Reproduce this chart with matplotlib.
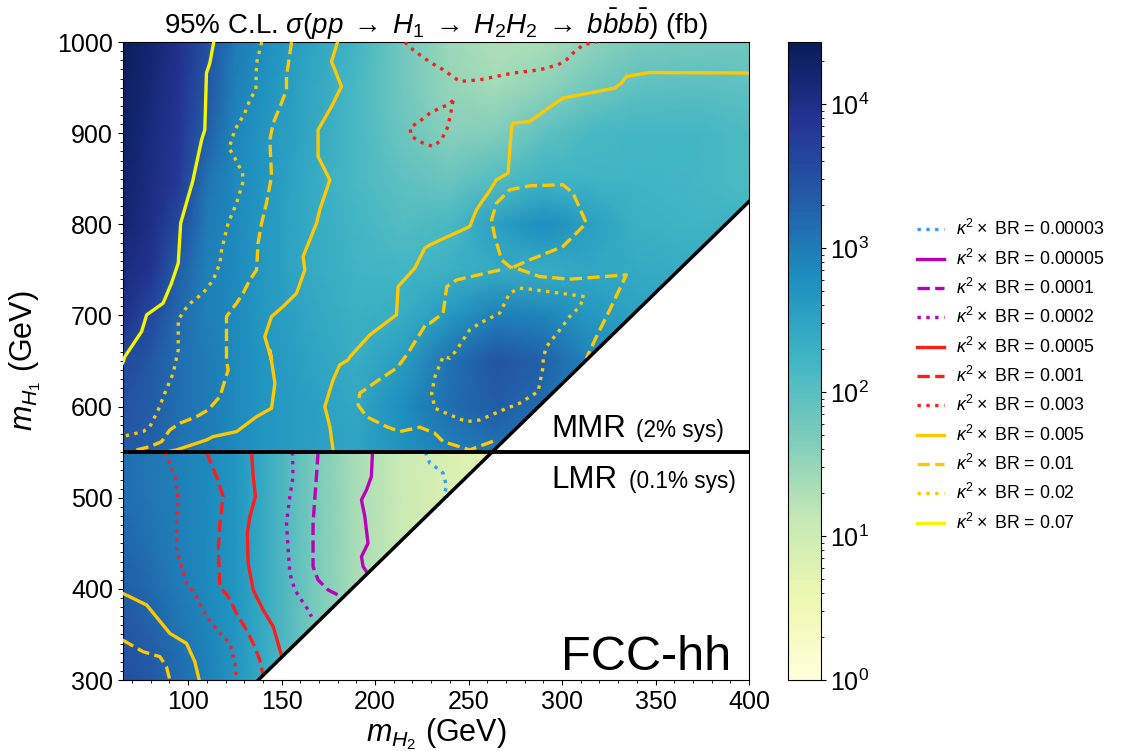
import numpy as np
import matplotlib
matplotlib.use("Agg")
import matplotlib.pyplot as plt
from matplotlib.colors import LogNorm
from matplotlib.cm import ScalarMappable
from matplotlib.ticker import MultipleLocator, LogLocator

plt.rcParams['font.family'] = ['Liberation Sans', 'DejaVu Sans']
plt.rcParams['mathtext.fontset'] = 'custom'
plt.rcParams['mathtext.rm'] = 'Liberation Sans'
plt.rcParams['mathtext.it'] = 'Liberation Sans:italic'
plt.rcParams['mathtext.bf'] = 'Liberation Sans:bold'

# ---- heat map: log10(sigma / fb) ----
grid_x = [65, 80, 95, 110, 125, 140, 165, 190, 215, 240, 265, 290, 315, 340, 370, 400]

mmr_y = [550, 600, 650, 700, 750, 800, 850, 900, 950, 1000]
mmr_logsig = [
    [3.40, 3.30, 3.10, 3.00, 2.85, 2.70, 2.55, 2.50, 2.75, 2.95, 3.05, 2.95, 2.75, 2.60, 2.55, 2.55],
    [3.45, 3.35, 3.15, 3.00, 2.85, 2.70, 2.55, 2.45, 2.80, 3.15, 3.35, 3.15, 2.85, 2.65, 2.55, 2.55],
    [3.60, 3.40, 3.15, 3.00, 2.85, 2.70, 2.50, 2.35, 2.60, 3.10, 3.45, 3.30, 2.90, 2.65, 2.55, 2.55],
    [3.95, 3.60, 3.20, 2.95, 2.85, 2.65, 2.45, 2.30, 2.35, 2.65, 2.95, 2.90, 2.65, 2.50, 2.45, 2.45],
    [4.10, 3.90, 3.30, 2.95, 2.85, 2.65, 2.40, 2.25, 2.20, 2.30, 2.40, 2.35, 2.45, 2.40, 2.35, 2.40],
    [4.20, 4.00, 3.60, 3.00, 2.85, 2.65, 2.40, 2.20, 2.05, 2.15, 2.55, 2.80, 2.55, 2.30, 2.25, 2.30],
    [4.25, 4.05, 3.80, 3.10, 2.85, 2.70, 2.40, 2.15, 1.95, 1.85, 2.05, 2.25, 2.25, 2.25, 2.20, 2.10],
    [4.30, 4.10, 3.85, 3.30, 2.90, 2.70, 2.45, 2.15, 1.85, 1.60, 1.65, 1.95, 2.15, 2.20, 2.20, 2.10],
    [4.35, 4.15, 3.90, 3.45, 2.95, 2.75, 2.45, 2.15, 1.80, 1.50, 1.40, 1.55, 1.80, 1.95, 2.00, 1.95],
    [4.40, 4.20, 3.95, 3.50, 3.00, 2.80, 2.50, 2.20, 1.80, 1.45, 1.30, 1.35, 1.55, 1.70, 1.75, 1.80],
]

lmr_y = [300, 350, 400, 450, 500, 550]
lmr_logsig = [
    [3.50, 3.40, 3.20, 2.95, 2.70, 2.40, 1.80, 1.35, 1.05, 0.85, 0.70, 0.65, 0.60, 0.60, 0.60, 0.60],
    [3.45, 3.30, 3.10, 2.90, 2.70, 2.40, 1.80, 1.35, 1.05, 0.85, 0.70, 0.65, 0.60, 0.60, 0.60, 0.60],
    [3.35, 3.20, 3.00, 2.85, 2.70, 2.40, 1.80, 1.35, 1.05, 0.85, 0.70, 0.65, 0.60, 0.60, 0.60, 0.60],
    [3.25, 3.10, 2.95, 2.85, 2.70, 2.40, 1.80, 1.35, 1.05, 0.85, 0.70, 0.65, 0.60, 0.60, 0.60, 0.60],
    [3.15, 3.05, 2.95, 2.85, 2.70, 2.40, 1.80, 1.35, 1.05, 0.85, 0.70, 0.65, 0.60, 0.60, 0.60, 0.60],
    [3.15, 3.05, 2.95, 2.85, 2.70, 2.40, 1.80, 1.35, 1.05, 0.85, 0.70, 0.65, 0.60, 0.60, 0.60, 0.60],
]

# kinematic edge and region split
diag_x = [137.5, 400]
diag_y = [300, 825]
split_y = 550

# ---- contour lines kappa^2 x BR ----
# 0.07 (yellow solid)
k007_x = [113.7, 111.6, 109.8, 108.9, 107.2, 102.4, 96.0, 94.7, 91.1, 86.6, 77.8, 75.1, 66.2, 65.0]
k007_y = [1000, 977, 966, 903.7, 892.7, 847, 801.3, 757.4, 735.5, 713.5, 700.7, 682.4, 655, 648]

# 0.02 (gold dotted), upper-left
k002a_x = [139.3, 136.6, 136.2, 133.0, 130.3, 125.0, 121.9, 125.0, 129.1, 129.4, 125.9, 121.4, 117.9,
           117.0, 113.4, 108.0, 100.0, 94.7, 94.7, 92.0, 87.5, 84.0, 79.5, 75.9, 66.1, 65.0]
k002a_y = [1000, 977, 947.6, 936.7, 922, 903.7, 883.6, 872.6, 856.2, 847, 823.3, 801.3, 772,
           757.4, 739, 724.5, 711.6, 695.2, 662, 636.7, 614.7, 596.4, 578, 572.6, 567.8, 567]
# 0.02 (gold dotted), loop on the right
k002b_x = [312.0, 282.7, 277.3, 272.0, 266.6, 256.0, 250.6, 243.6, 240.0, 236.4, 232.0, 230.2, 232.0,
           240.0, 248.9, 256.0, 268.4, 277.3, 287.2, 289.9, 289.9, 291.7, 298.8, 304.1, 309.4, 312.0]
k002b_y = [720.8, 728.9, 730, 724.5, 702.5, 691.5, 684.2, 662.2, 653.1, 654.9, 632.9, 614.7, 598.2,
           590.9, 583.5, 585.4, 596.4, 603.7, 616.5, 643.9, 653.1, 665.9, 684.2, 698.8, 709.8, 720.8]

# 0.01 (gold dashed), upper-left
k001a_x = [155.3, 152.6, 152.6, 149.9, 145.5, 143.7, 144.6, 141.9, 139.3, 137.4, 136.6, 133.0, 129.4,
           125.9, 120.5, 120.5, 121.4, 117.0, 110.7, 104.5, 95.6, 90.2, 85.8, 79.5, 72.4, 68.0]
k001a_y = [1000, 962.3, 947.6, 933, 911, 892.7, 852.5, 823.3, 801.3, 779.4, 750, 739, 724.5,
           713.5, 698.8, 651.3, 640.3, 611, 596.4, 589, 581.8, 574.4, 561.6, 556, 552.5, 550]
# 0.01 (gold dashed), loop round the blob near (290, 800)
k001b_x = [273.0, 267.6, 264.0, 262.3, 264.9, 272.0, 282.7, 300.5, 305.9, 313.0, 300.5, 282.7, 273.8,
           288.1, 304.1, 334.4, 325.5, 318.4, 313.0]
k001b_y = [751.9, 761, 786.6, 804.9, 823.3, 837.9, 842.3, 843.4, 834.2, 801.3, 775.7, 761, 753,
           742.7, 739.8, 744.6, 706.1, 676.8, 652.8]
# 0.01 (gold dashed), lower branch
k001c_x = [266.8, 243.6, 238.3, 236.4, 229.3, 227.5, 218.6, 215.0, 211.4, 200.7, 191.8, 190.9, 195.4,
           206.1, 213.2, 223.9, 231.9, 236.4, 250.6, 264.9]
k001c_y = [750, 739, 731.7, 702.5, 691.5, 691.5, 662.2, 651.3, 642.1, 627.5, 614.7, 601.9, 589,
           578, 572.6, 577.4, 570.8, 561.6, 552.5, 563.4]

# 0.005 (gold solid), upper-left
k0005a_x = [179.9, 176.7, 182.0, 176.7, 169.5, 169.5, 175.8, 170.4, 168.7, 161.5, 162.4, 158.0, 150.8,
            144.6, 141.0, 144.6, 143.7, 146.4, 144.6, 136.6, 125.9, 113.4, 109.8, 93.8, 88.0]
k0005a_y = [1000, 978.7, 951.3, 929.3, 903.7, 874.4, 848.8, 815.9, 801.3, 764.7, 750, 724.5, 709.8,
            698.8, 676.8, 651.3, 662, 625.7, 598.2, 589, 572.6, 567.1, 563.4, 552.5, 550]
# 0.005 (gold solid), right
k0005b_x = [400.0, 346.9, 334.4, 331.8, 328.2, 300.5, 292.5, 282.7, 273.8, 273.0, 271.1, 264.9, 260.4,
            257.7, 254.2, 250.6, 229.3, 226.6, 221.2, 212.3, 211.4, 197.2, 186.5, 185.6, 181.1,
            177.5, 173.1, 175.8, 177.5, 177.5]
k0005b_y = [966, 966.6, 962.3, 955, 949.5, 938.5, 927.5, 912.8, 911, 907.4, 856.2, 848.8, 834.2,
            826.6, 815.9, 797.6, 777.5, 773.9, 751.9, 731.7, 700.7, 678.7, 654.6, 651.3, 645.8,
            629.3, 600, 578, 552.5, 550]
# 0.005 / 0.01 in the LMR corner
k0005c_x = [64.9, 77.8, 90.2, 99.1, 103.6, 105.9]
k0005c_y = [395.2, 382.3, 351.2, 340.2, 320.1, 300]
k001d_x = [64.9, 75.9, 84.9, 88.4, 90.2]
k001d_y = [343.9, 331.1, 325.6, 314.6, 300]

# 0.003 (red dotted)
k0003a_x = [215.9, 220.3, 229.3, 236.4, 245.3, 256.0, 273.8, 288.1, 297.9, 302.4, 305.9, 311.3, 318.4]
k0003a_y = [1000, 991.5, 978, 969.6, 956.8, 958.6, 966, 969.6, 975.1, 980.6, 987.9, 997, 1000]
k0003b_x = [241.7, 239.0, 234.6, 229.3, 224.8, 218.6, 219.5, 225.7, 231.0, 235.5, 239.0, 240.8, 241.7]
k0003b_y = [935.9, 931.3, 927.5, 922, 914.7, 905.6, 896.4, 889.1, 885.4, 892.7, 907.4, 925.7, 935.9]
k0003c_x = [87.5, 92.9, 94.7, 93.8, 93.8, 99.1, 104.5, 109.8, 117.0, 122.3, 125.0, 125.9]
k0003c_y = [550, 523.2, 497.6, 479.3, 442.7, 406.1, 391.5, 369.5, 351.2, 340.2, 318.3, 300]

# 0.001 (red dashed), 0.0005 (red solid)
k00010_x = [109.8, 115.2, 118.7, 117.0, 116.1, 117.0, 121.4, 125.9, 131.2, 134.8, 138.3, 140.1]
k00010_y = [550, 523.2, 501.3, 472, 442.7, 402.4, 391.5, 373.2, 354.9, 340.2, 322, 305.5]
k00005_x = [133.9, 134.8, 136.0, 133.0, 131.6, 132.1, 134.8, 140.1, 145.5, 148.1, 149.9]
k00005_y = [550, 523.2, 501.3, 479.3, 461, 428.1, 398.8, 376.9, 358.6, 340.2, 327.4]

# 0.0002 (magenta dotted), 0.0001 (magenta dashed), 0.00005 (magenta solid)
k00002_x = [155.8, 156.1, 154.4, 152.6, 153.5, 154.4, 157.1, 160.6, 164.2, 166.0]
k00002_y = [550, 523.2, 501.3, 472, 442.7, 417.1, 398.8, 387.8, 376.9, 369.5]
k00001_x = [169.5, 168.6, 167.7, 166.8, 166.8, 169.5, 174.9, 180.2]
k00001_y = [550, 523.2, 497.6, 472, 424.4, 409.8, 398.8, 393.3]
k000005_x = [198.6, 198.0, 195.4, 192.7, 194.5, 196.2, 192.7, 193.6, 195.4]
k000005_y = [550, 523.2, 508.6, 497.6, 479.3, 450, 435.4, 424.4, 418.9]

# 0.00003 (blue dotted)
k000003_x = [226.9, 229.3, 234.6, 236.4, 238.3, 236.4]
k000003_y = [550, 537.8, 530.5, 526.9, 512.2, 501.2]

YELLOW = '#f5f500'
GOLD = '#ffc800'
RED = '#ff1c1c'
MAG = '#bb00bb'
BLUE = '#3399ff'

fig = plt.figure(figsize=(11.28, 7.51), dpi=100)
ax = fig.add_axes([0.1088, 0.0945, 0.5552, 0.8495])
cax = fig.add_axes([0.6989, 0.0945, 0.0287, 0.8495])

norm = LogNorm(vmin=1, vmax=2.7e4)
cmap = plt.get_cmap('YlGnBu')

gx, gy = np.meshgrid(grid_x, mmr_y)
ax.pcolormesh(gx, gy, 10 ** np.array(mmr_logsig), norm=norm, cmap=cmap,
              shading='gouraud', rasterized=True)
gx, gy = np.meshgrid(grid_x, lmr_y)
ax.pcolormesh(gx, gy, 10 ** np.array(lmr_logsig), norm=norm, cmap=cmap,
              shading='gouraud', rasterized=True)

# blank out the kinematically forbidden corner
ax.fill([diag_x[0], diag_x[1], diag_x[1]], [diag_y[0], diag_y[0], diag_y[1]],
        color='white', zorder=2)

lw = 2.4
lab = r'$\kappa^2\times$ BR = '
ax.plot(k000003_x, k000003_y, color=BLUE, ls=':', lw=lw, label=lab + '0.00003', zorder=3)
ax.plot(k000005_x, k000005_y, color=MAG, ls='-', lw=lw, label=lab + '0.00005', zorder=3)
ax.plot(k00001_x, k00001_y, color=MAG, ls='--', lw=lw, label=lab + '0.0001', zorder=3)
ax.plot(k00002_x, k00002_y, color=MAG, ls=':', lw=lw, label=lab + '0.0002', zorder=3)
ax.plot(k00005_x, k00005_y, color=RED, ls='-', lw=lw, label=lab + '0.0005', zorder=3)
ax.plot(k00010_x, k00010_y, color=RED, ls='--', lw=lw, label=lab + '0.001', zorder=3)
ax.plot(k0003a_x, k0003a_y, color=RED, ls=':', lw=lw, label=lab + '0.003', zorder=3)
ax.plot(k0003b_x, k0003b_y, color=RED, ls=':', lw=lw, zorder=3)
ax.plot(k0003c_x, k0003c_y, color=RED, ls=':', lw=lw, zorder=3)
ax.plot(k0005a_x, k0005a_y, color=GOLD, ls='-', lw=lw, label=lab + '0.005', zorder=3)
ax.plot(k0005b_x, k0005b_y, color=GOLD, ls='-', lw=lw, zorder=3)
ax.plot(k0005c_x, k0005c_y, color=GOLD, ls='-', lw=lw, zorder=3)
ax.plot(k001a_x, k001a_y, color=GOLD, ls='--', lw=lw, label=lab + '0.01', zorder=3)
ax.plot(k001b_x, k001b_y, color=GOLD, ls='--', lw=lw, zorder=3)
ax.plot(k001c_x, k001c_y, color=GOLD, ls='--', lw=lw, zorder=3)
ax.plot(k001d_x, k001d_y, color=GOLD, ls='--', lw=lw, zorder=3)
ax.plot(k002a_x, k002a_y, color=GOLD, ls=':', lw=lw, label=lab + '0.02', zorder=3)
ax.plot(k002b_x, k002b_y, color=GOLD, ls=':', lw=lw, zorder=3)
ax.plot(k007_x, k007_y, color=YELLOW, ls='-', lw=lw, label=lab + '0.07', zorder=3)

# region boundaries
ax.plot(diag_x, diag_y, color='black', lw=2.5, zorder=4)
ax.plot([grid_x[0], grid_x[-1]], [split_y, split_y], color='black', lw=2.8, zorder=4)

ax.text(294.3, 566.7, 'MMR', fontsize=22.5, va='baseline', zorder=5)
ax.text(339.4, 566.7, '(2% sys)', fontsize=16.3, va='baseline', zorder=5)
ax.text(294.3, 510.4, 'LMR', fontsize=22.5, va='baseline', zorder=5)
ax.text(335.8, 510.4, '(0.1% sys)', fontsize=16.3, va='baseline', zorder=5)
ax.text(390.7, 311, 'FCC-hh', fontsize=35, ha='right', va='baseline', zorder=5)

ax.set_xlim(65, 400)
ax.set_ylim(300, 1000)
ax.xaxis.set_minor_locator(MultipleLocator(10))
ax.yaxis.set_minor_locator(MultipleLocator(10))
ax.tick_params(labelsize=18)
ax.set_xlabel(r'$m_{H_2}$ (GeV)', fontsize=22, labelpad=2)
ax.set_ylabel(r'$m_{H_1}$ (GeV)', fontsize=22, labelpad=10)
ax.set_title(r'95% C.L. $\sigma(pp \;\rightarrow\; H_1 \;\rightarrow\; H_2H_2 \;\rightarrow\; '
             r'b\bar{b}b\bar{b})$ (fb)', fontsize=20, pad=5)

sm = ScalarMappable(norm=norm, cmap=cmap)
cb = fig.colorbar(sm, cax=cax)
cb.ax.yaxis.set_major_locator(LogLocator(base=10))
cb.ax.tick_params(labelsize=18)

fig.legend(loc='upper left', bbox_to_anchor=(0.8125, 0.708), frameon=False,
           borderpad=0, borderaxespad=0, fontsize=12.8, handlelength=1.55,
           handletextpad=0.65, labelspacing=0.52)

fig.savefig('out.png', dpi=100)
